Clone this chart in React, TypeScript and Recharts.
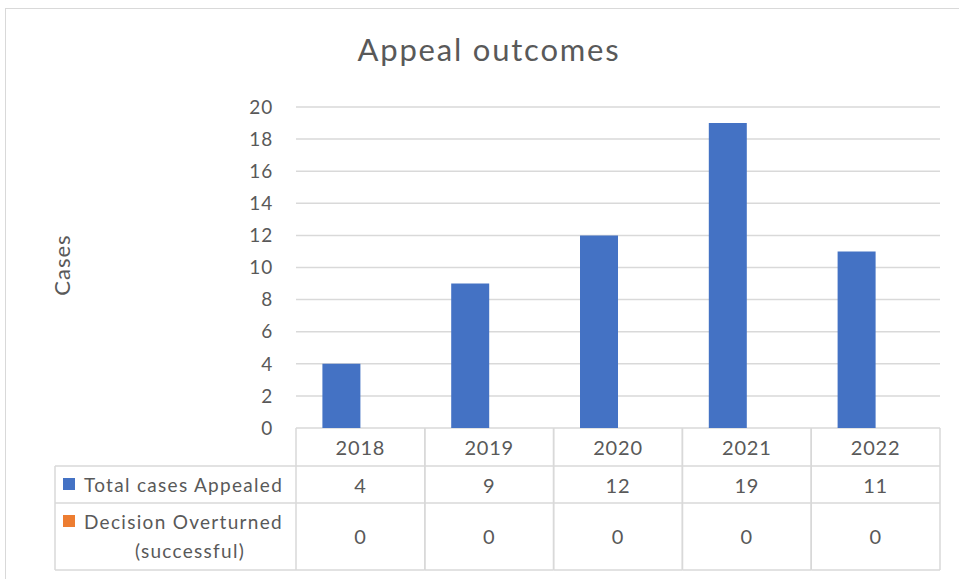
import { BarChart, Bar, CartesianGrid, XAxis, YAxis } from 'recharts';

const years = ['2018', '2019', '2020', '2021', '2022'];
const totalAppealed = [4, 9, 12, 19, 11];
const overturned = [0, 0, 0, 0, 0];
const yTicks = [0, 2, 4, 6, 8, 10, 12, 14, 16, 18, 20];

const data = years.map((year, i) => ({
  year,
  total: totalAppealed[i],
  overturned: overturned[i],
}));

const FONT = 'Lato, "Noto Sans", sans-serif';
const TEXT = '#595959';
const LINE = '#d9d9d9';
const BLUE = '#4472C4';
const ORANGE = '#ED7D31';

const W = 959;
const H = 579;
const PLOT_L = 296;
const PLOT_R = 940;
const COL = (PLOT_R - PLOT_L) / years.length;
const ROW1 = 466;
const ROW2 = 503;
const TABLE_B = 570;
const LABEL_L = 55;

function TableTick(props: any) {
  const { x, y, payload, index } = props;
  const l = x - COL / 2;
  const r = x + COL / 2;
  return (
    <g fontFamily={FONT} fontSize={20} fill={TEXT}>
      <line x1={l} x2={l} y1={y} y2={TABLE_B} stroke={LINE} strokeWidth={1.5} />
      <line x1={r} x2={r} y1={y} y2={TABLE_B} stroke={LINE} strokeWidth={1.5} />
      <line x1={l} x2={r} y1={ROW1} y2={ROW1} stroke={LINE} strokeWidth={1.5} />
      <line x1={l} x2={r} y1={ROW2} y2={ROW2} stroke={LINE} strokeWidth={1.5} />
      <line x1={l} x2={r} y1={TABLE_B} y2={TABLE_B} stroke={LINE} strokeWidth={1.5} />
      <text x={x} y={455} textAnchor="middle" letterSpacing={0.8}>{payload.value}</text>
      <text x={x} y={493} textAnchor="middle" letterSpacing={0.8}>{totalAppealed[index]}</text>
      <text x={x} y={544} textAnchor="middle" letterSpacing={0.8}>{overturned[index]}</text>
      {index === 0 && (
        <g fontSize={19} letterSpacing={1.3}>
          <line x1={LABEL_L} x2={l} y1={ROW1} y2={ROW1} stroke={LINE} strokeWidth={1.5} />
          <line x1={LABEL_L} x2={l} y1={ROW2} y2={ROW2} stroke={LINE} strokeWidth={1.5} />
          <line x1={LABEL_L} x2={l} y1={TABLE_B} y2={TABLE_B} stroke={LINE} strokeWidth={1.5} />
          <line x1={LABEL_L} x2={LABEL_L} y1={ROW1} y2={TABLE_B} stroke={LINE} strokeWidth={1.5} />
          <rect x={63} y={478} width={12} height={12} fill={BLUE} />
          <text x={84} y={492}>Total cases Appealed</text>
          <rect x={63} y={515} width={12} height={12} fill={ORANGE} />
          <text x={84} y={529}>Decision Overturned</text>
          <text x={190} y={558} textAnchor="middle">(successful)</text>
        </g>
      )}
    </g>
  );
}

function CasesLabel() {
  return (
    <text
      x={70}
      y={265}
      transform="rotate(-90 70 265)"
      textAnchor="middle"
      fill={TEXT}
      fontSize={22}
      fontFamily={FONT}
      letterSpacing={1}
    >
      Cases
    </text>
  );
}

export default function App() {
  return (
    <div style={{ position: 'absolute', left: 0, top: 0, width: W, height: H, background: '#fff', overflow: 'hidden' }}>
      <div style={{ position: 'absolute', left: 5, top: 8, width: W, height: H, border: `1.5px solid ${LINE}`, boxSizing: 'border-box' }} />
      <div style={{ position: 'absolute', left: 0, top: 30, width: 978, textAlign: 'center', fontFamily: FONT, fontSize: 31, color: TEXT, letterSpacing: 1.8 }}>
        Appeal outcomes
      </div>
      <BarChart
        width={W}
        height={H}
        data={data}
        margin={{ top: 107, right: W - PLOT_R, bottom: 9, left: 0 }}
        barCategoryGap="20.5%"
        barGap={0}
        style={{ position: 'absolute', left: 0, top: 0 }}
      >
        <CartesianGrid vertical={false} stroke={LINE} strokeWidth={1.5} />
        <XAxis
          dataKey="year"
          height={TABLE_B - 429 + 1}
          tickLine={false}
          axisLine={false}
          tickSize={0}
          tickMargin={0}
          interval={0}
          tick={<TableTick />}
        />
        <YAxis
          width={PLOT_L}
          domain={[0, 20]}
          ticks={yTicks}
          tickLine={false}
          axisLine={false}
          tickSize={0}
          tickMargin={23}
          tick={{ fill: TEXT, fontSize: 19, fontFamily: FONT, letterSpacing: 0.8 }}
          label={<CasesLabel />}
        />
        <Bar dataKey="total" name="Total cases Appealed" fill={BLUE} isAnimationActive={false} />
        <Bar dataKey="overturned" name="Decision Overturned (successful)" fill={ORANGE} isAnimationActive={false} />
      </BarChart>
    </div>
  );
}
